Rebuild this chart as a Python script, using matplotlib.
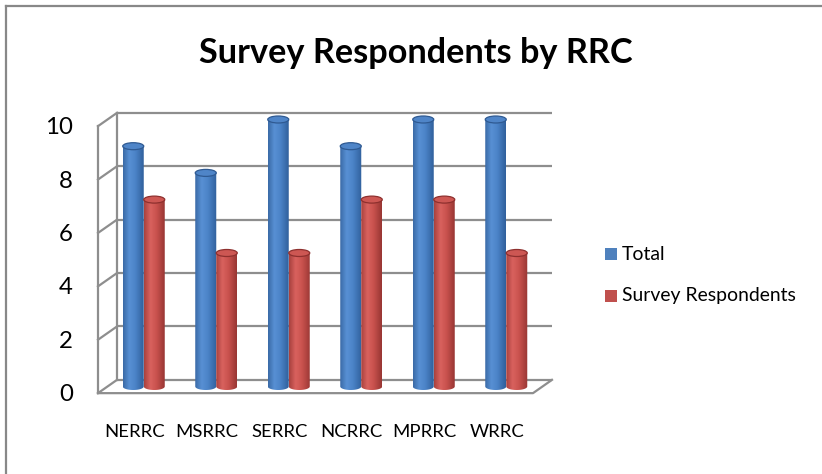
import numpy as np
import matplotlib
matplotlib.use("Agg")
import matplotlib.pyplot as plt
from matplotlib.patches import Ellipse, Rectangle, PathPatch
from matplotlib.path import Path
from matplotlib.colors import LinearSegmentedColormap

# ---- data ----
categories = ["NERRC", "MSRRC", "SERRC", "NCRRC", "MPRRC", "WRRC"]
total = [9, 8, 10, 9, 10, 10]
respondents = [7, 5, 5, 7, 7, 5]
series_names = ["Total", "Survey Respondents"]
yticks = [0, 2, 4, 6, 8, 10]
title = "Survey Respondents by RRC"

FONT = "Lato"
W, H = 822, 474
fig = plt.figure(figsize=(W / 100, H / 100), dpi=100)
fig.patch.set_facecolor("white")

def fx(px):
    return px / W

def fy(py):
    return 1 - py / H

# outer frame (top and left visible)
fig.add_artist(plt.Line2D([fx(6), fx(6)], [fy(6), fy(474)], color="#888888", lw=1.6))
fig.add_artist(plt.Line2D([fx(6), fx(822)], [fy(6), fy(6)], color="#888888", lw=1.6))

# plot axes
L, R, T, B = 60, 570, 90, 420
ax = fig.add_axes([fx(L), fy(B), (R - L) / W, (B - T) / H])
x0p, ux = 107.5, 72.5
y0p, uy = 386.5, 26.7
xlim = ((L - x0p) / ux, (R - x0p) / ux)
ylim = ((y0p - B) / uy, (y0p - T) / uy)
ax.set_axis_off()

DX = 9.5 / ux
DY = 6.65 / uy
n = len(categories)
gc = "#8e8e8e"
glw = 1.6

# back wall gridlines + left wall slants
for v in yticks:
    ax.plot([DX, n + DX], [v + DY, v + DY], color=gc, lw=glw, zorder=1, solid_capstyle="butt")
    ax.plot([-DX, DX], [v - DY, v + DY], color=gc, lw=glw, zorder=1)
ax.plot([DX, DX], [DY, yticks[-1] + DY], color=gc, lw=glw, zorder=1)
ax.plot([-DX, -DX], [-DY, yticks[-1] - DY], color=gc, lw=glw, zorder=1)
# floor front edge and right slant
ax.plot([-DX, n - DX, n + DX], [-DY, -DY, DY], color=gc, lw=glw, zorder=1)

bw = 21 / ux
cap_h = 7.0 / uy

cmaps = [
    LinearSegmentedColormap.from_list("b", [(0, "#3a6aa6"), (0.3, "#5890d4"), (0.6, "#4b83c7"), (1, "#30609c")]),
    LinearSegmentedColormap.from_list("r", [(0, "#a8413e"), (0.3, "#d9625e"), (0.6, "#c9524e"), (1, "#983633")]),
]
capcol = ["#4f85c8", "#cd5753"]
edgecol = ["#2f5a92", "#8e302e"]

grad = np.linspace(0, 1, 64).reshape(1, -1)
theta = np.linspace(np.pi, 2 * np.pi, 30)

for s, vals in enumerate([total, respondents]):
    for i, v in enumerate(vals):
        xl = i + 0.5 - bw + s * bw
        xr = xl + bw
        xc = (xl + xr) / 2
        z = 3 + s
        bar = ax.bar(xl, v, width=bw, bottom=0, align="edge", color="none", edgecolor="none", zorder=z)[0]
        verts = [(xl, v), (xl, 0)] + [(xc + (bw / 2) * np.cos(t), (cap_h / 2) * np.sin(t)) for t in theta] + [(xr, v), (xl, v)]
        clip = PathPatch(Path(verts), transform=ax.transData, facecolor="none", edgecolor="none")
        ax.add_patch(clip)
        im = ax.imshow(grad, cmap=cmaps[s], extent=[xl, xr, -cap_h, v], aspect="auto",
                       interpolation="bicubic", zorder=z)
        im.set_clip_path(clip)
        ax.add_patch(Ellipse((xc, v), bw, cap_h, facecolor=capcol[s], edgecolor=edgecol[s], lw=0.9, zorder=z + 0.1))

ax.set_xlim(*xlim)
ax.set_ylim(*ylim)

renderer = fig.canvas.get_renderer()

def fit(t, target):
    w = t.get_window_extent(renderer).width
    t.set_fontsize(t.get_fontsize() * target / w)

# y tick labels
ylab = []
for v in yticks:
    t = ax.text((73 - x0p) / ux, v - DY - 8 / uy, str(v), ha="right", va="baseline",
                fontsize=17, family=FONT, color="black", clip_on=False)
    ylab.append(t)
fit(ylab[-1], 28)
for t in ylab:
    t.set_fontsize(ylab[-1].get_fontsize())

# category labels
clab = []
for i, c in enumerate(categories):
    t = ax.text(i + 0.5 - DX, (y0p - 437) / uy, c, ha="center", va="baseline",
                fontsize=14, family=FONT, color="black", clip_on=False)
    clab.append(t)
fit(clab[0], 60)
for t in clab:
    t.set_fontsize(clab[0].get_fontsize())

# title
tt = fig.text(fx(416), fy(63), title, ha="center", va="baseline", fontsize=20,
              fontweight="bold", family=FONT, color="black")
fit(tt, 434)

# legend
leg_y = [254, 296]
lt = []
for k, name in enumerate(series_names):
    fig.add_artist(Rectangle((fx(605), fy(leg_y[k] + 6)), 12 / W, 12 / H, transform=fig.transFigure,
                             facecolor=["#4f81bd", "#c0504d"][k], edgecolor="none"))
    t = fig.text(fx(622), fy(leg_y[k]), name, ha="left", va="center", fontsize=14, family=FONT, color="black")
    lt.append(t)
fit(lt[1], 175)
lt[0].set_fontsize(lt[1].get_fontsize())

fig.savefig("out.png", dpi=100)
